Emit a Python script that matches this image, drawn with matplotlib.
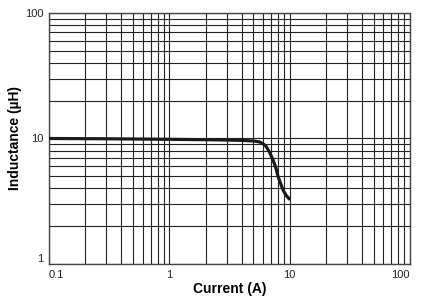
import matplotlib.pyplot as plt
from matplotlib.ticker import LogLocator, FixedLocator, NullFormatter

plt.rcParams['font.family'] = ['Liberation Sans', 'DejaVu Sans']

# datos
corriente = [0.1, 0.3, 1, 2, 3, 4, 5, 5.6, 6.0, 6.4, 6.8, 7.3, 7.7, 8.0, 8.4, 8.8, 9.4, 10.1]
inductancia = [10.0, 9.95, 9.85, 9.78, 9.72, 9.66, 9.55, 9.4, 9.1, 8.6, 7.8, 6.7, 5.8, 5.0, 4.4, 3.9, 3.5, 3.25]

xticks = [0.1, 1, 10, 100]
xlabels = ['0.1', '1', '10', '100']
yticks = [1, 10, 100]
ylabels = ['1', '10', '100']

fig = plt.figure(figsize=(4.41, 3.0), dpi=100)
ax = fig.add_axes([0.111, 0.12, 0.8186, 0.8367])

ax.plot(corriente, inductancia, '-', color='#1a1a1a', linewidth=2.3, solid_capstyle='butt', zorder=3)

ax.set_xscale('log')
ax.set_yscale('log')
ax.set_xlim(0.1, 100)
ax.set_ylim(1, 100)

ax.xaxis.set_major_locator(FixedLocator(xticks))
ax.yaxis.set_major_locator(FixedLocator(yticks))
ax.set_xticklabels(xlabels)
ax.set_yticklabels(ylabels)
ax.xaxis.set_minor_locator(LogLocator(base=10, subs=range(2, 10)))
ax.yaxis.set_minor_locator(LogLocator(base=10, subs=range(2, 10)))
ax.xaxis.set_minor_formatter(NullFormatter())
ax.yaxis.set_minor_formatter(NullFormatter())

# etiquetas de los extremos hacia dentro, como en la hoja de datos
xl = ax.get_xticklabels()
xl[0].set_ha('left')
xl[-1].set_ha('right')
ax.get_yticklabels()[0].set_va('bottom')

ax.grid(True, which='both', color='#222222', linewidth=0.8)
ax.tick_params(which='both', length=0, labelsize=8, pad=4, colors='#222222')
for s in ax.spines.values():
    s.set_color('#444444')
    s.set_linewidth(1.0)

ax.set_xlabel('Current (A)', fontsize=10, fontweight='bold', labelpad=2)
ax.set_ylabel('Inductance (µH)', fontsize=10, fontweight='bold')
ax.yaxis.set_label_coords(-0.075, 0.5)

plt.savefig('out.png', dpi=100)
